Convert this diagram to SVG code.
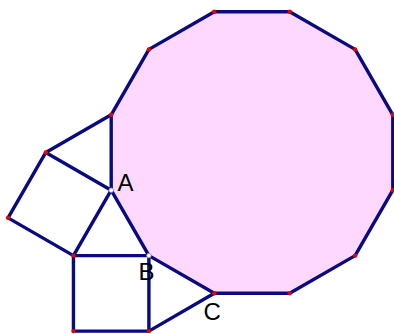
<svg xmlns="http://www.w3.org/2000/svg" width="394" height="334" viewBox="0 0 394 334">
<style>
.edge{stroke:#0a0a80;stroke-width:3.4;fill:none;stroke-linecap:round;stroke-linejoin:round}
.poly{fill:#ffd8ff;stroke:#0a0a80;stroke-width:3.4;stroke-linejoin:round}
.pt{fill:#e60000;stroke:none}
.wpt{fill:#ffffff;stroke:#888888;stroke-width:0.8}
.lbl{font-family:"Liberation Sans",Arial,sans-serif;font-size:24px;fill:#000000}
</style>
<rect width="394" height="334" fill="#ffffff"/>
<g id="dodecagon">
<polygon class="poly" points="214.3,11.7 289.7,11.7 355.1,49.4 392.8,114.8 392.8,190.2 355.1,255.6 289.7,293.3 214.3,293.3 148.9,255.6 111.2,190.2 111.2,114.8 148.9,49.4"/>
</g>
<g id="connectors">
<polyline class="edge" points="111.2,114.8 45.8,152.45 111.2,190.2"/>
<polyline class="edge" points="45.8,152.45 8.05,217.85 73.45,255.6 111.2,190.2"/>
<polyline class="edge" points="73.45,255.6 148.9,255.6 148.9,331.1 73.45,331.1 73.45,255.6"/>
<polyline class="edge" points="148.9,331.1 214.3,293.3"/>
</g>
<g id="points">
<circle class="pt" cx="214.3" cy="11.7" r="2.2"/>
<circle class="pt" cx="289.7" cy="11.7" r="2.2"/>
<circle class="pt" cx="355.1" cy="49.4" r="2.2"/>
<circle class="pt" cx="392.8" cy="114.8" r="2.2"/>
<circle class="pt" cx="392.8" cy="190.2" r="2.2"/>
<circle class="pt" cx="355.1" cy="255.6" r="2.2"/>
<circle class="pt" cx="289.7" cy="293.3" r="2.2"/>
<circle class="pt" cx="214.3" cy="293.3" r="2.2"/>
<circle class="pt" cx="111.2" cy="114.8" r="2.2"/>
<circle class="pt" cx="148.9" cy="49.4" r="2.2"/>
<circle class="pt" cx="45.8" cy="152.45" r="2.2"/>
<circle class="pt" cx="8.05" cy="217.85" r="2.2"/>
<circle class="pt" cx="73.45" cy="255.6" r="2.2"/>
<circle class="pt" cx="148.9" cy="331.1" r="2.2"/>
<circle class="pt" cx="73.45" cy="331.1" r="2.2"/>
<circle class="wpt" cx="111.2" cy="190.2" r="2.3"/>
<circle class="wpt" cx="148.9" cy="255.6" r="2.3"/>
</g>
<g id="node-A"><text class="lbl" x="117.5" y="191">A</text></g>
<g id="node-B"><text class="lbl" x="138.5" y="280">B</text></g>
<g id="node-C"><text class="lbl" x="203.5" y="320">C</text></g>
</svg>
